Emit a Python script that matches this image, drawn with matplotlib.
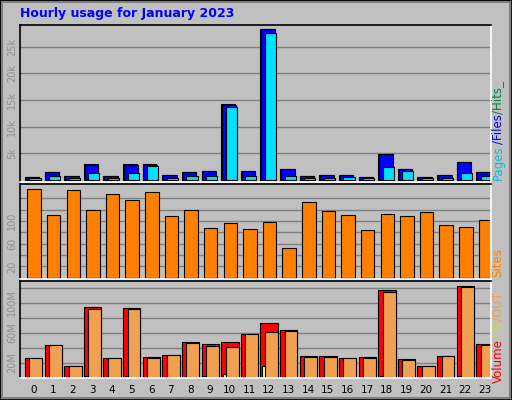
import numpy as np
import matplotlib
matplotlib.use("Agg")
import matplotlib.pyplot as plt
from matplotlib.patches import Rectangle

hours = list(range(24))
hits = [550, 1550, 800, 2950, 800, 2950, 2950, 950, 1550, 1750, 14200, 1750,
        28400, 2050, 800, 950, 950, 550, 4950, 2050, 650, 950, 3450, 1550]
files = [500, 1500, 750, 2900, 750, 2900, 2900, 900, 1500, 1700, 14100, 1700,
         28300, 2000, 750, 900, 900, 500, 4900, 2000, 600, 900, 3400, 1500]
pages = [300, 750, 400, 1250, 400, 1250, 2600, 400, 750, 750, 13700, 750,
         27500, 750, 400, 400, 500, 300, 2400, 1700, 300, 400, 1300, 750]
sites = [156, 110, 154, 119, 147, 136, 151, 108, 119, 87, 96, 85,
         98, 52, 133, 117, 110, 84, 112, 108, 115, 92, 90, 101]
volume = [26, 43.5, 15, 94, 26, 93, 27, 30, 47, 44.5, 47, 58,
          72.5, 63, 28.5, 28.5, 26, 27, 116.5, 24.5, 15, 28.5, 122, 44.5]
vol_in = [1, 1, 1, 2, 1, 2, 1, 1, 1, 2, 5, 1,
          15, 1, 1, 1, 1, 1, 2, 1, 1, 1, 2, 1]
vol_out = [26, 43.5, 15, 91.5, 26, 91.5, 26, 30, 46, 42, 40.5, 58,
           60.5, 62, 27.5, 27.5, 26, 26, 114, 23.5, 15, 28.5, 121, 43.5]

BG = "#c0c0c0"
W, H = 512, 400
fig = plt.figure(figsize=(W / 100, H / 100), dpi=100)
fig.set_facecolor(BG)

# outer bevel frame
fig.add_artist(Rectangle((0, 0), 1, 1, transform=fig.transFigure, fill=False, ec="black", lw=2))
fig.add_artist(Rectangle((2 / W, 2 / H), 1 - 4 / W, 1 - 4 / H, transform=fig.transFigure,
                         fill=False, ec="#808080", lw=1.5))

def make_ax(top, bottom):
    ax = fig.add_axes([20 / W, 1 - bottom / H, 471 / W, (bottom - top) / H])
    ax.set_facecolor(BG)
    for s in ax.spines.values():
        s.set_color("white")
        s.set_linewidth(1.2)
    ax.spines["left"].set_color("black")
    ax.spines["top"].set_color("black")
    ax.set_xlim(-0.68, 23.32)
    ax.tick_params(axis="y", length=0, labelsize=7, labelcolor="#909090", pad=2)
    ax.tick_params(axis="x", length=0)
    ax.grid(axis="y", color="#808080", lw=1)
    ax.set_axisbelow(True)
    return ax

x = np.array(hours)
kw = dict(align="edge", edgecolor="black", linewidth=0.8)

ax1 = make_ax(25, 182)
ax1.bar(x - 0.43, hits, width=0.7, color="#008040", **kw)
ax1.bar(x - 0.39, files, width=0.7, color="#0000ff", **kw)
ax1.bar(x - 0.2, pages, width=0.57, color="#00e0ff", **kw)
ax1.set_ylim(-375, 29060)
ax1.set_yticks([5000, 10000, 15000, 20000, 25000], ["5k", "10k", "15k", "20k", "25k"],
               rotation=90, va="center")
ax1.set_xticks([])

ax2 = make_ax(184, 279)
ax2.bar(x - 0.31, sites, width=0.69, color="#ff8000", **kw)
ax2.set_ylim(-2.3, 165)
ax2.set_yticks([20, 40, 60, 80, 100, 120, 140])
ax2.set_yticklabels(["20", "", "60", "", "100", "", ""], rotation=90, va="center")
ax2.set_xticks([])

ax3 = make_ax(281, 378)
ax3.bar(x - 0.43, volume, width=0.89, color="#ff0000", **kw)
ax3.bar(x - 0.35, vol_in, width=0.2, color="#ffff80", **kw)
ax3.bar(x - 0.2, vol_out, width=0.66, color="#f0a050", **kw)
ax3.set_ylim(-0.4, 129)
ax3.set_yticks([20, 40, 60, 80, 100, 120])
ax3.set_yticklabels(["20M", "", "60M", "", "100M", ""], rotation=90, va="center")
ax3.set_xticks(x, [str(h) for h in hours], fontsize=7.5)
ax3.tick_params(axis="x", pad=5)

fig.text(20 / W, 1 - 14 / H, "Hourly usage for January 2023", color="#0000ff",
         fontsize=9, fontweight="bold", va="center", ha="left")

renderer = fig.canvas.get_renderer()

def side(parts, y_bottom):
    # stack rotated label segments upward, each starting where the previous ended
    y = 1 - y_bottom / H
    for label, color in parts:
        t = fig.text(498 / W, y, label, color=color, rotation=90,
                     fontsize=8.5, ha="center", va="bottom")
        bb = t.get_window_extent(renderer)
        y += bb.height / H + 1 / H

side([("Pages", "#00c0e0"), ("/Files", "#0000ff"), ("/Hits_", "#008040")], 180)
side([("Sites", "#ff8000")], 277)
side([("Volume", "#ff0000"), ("/IN", "#d0d060"), ("/OUT", "#f0a050")], 383)

fig.savefig("out.png", dpi=100, facecolor=BG)
